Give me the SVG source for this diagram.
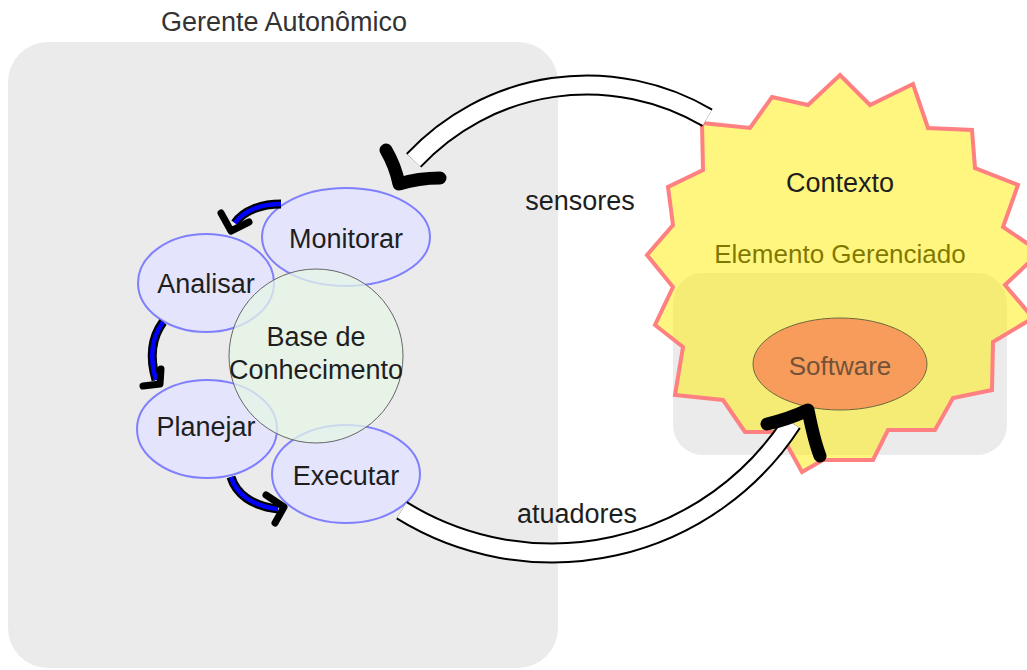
<svg xmlns="http://www.w3.org/2000/svg" width="1027" height="670" viewBox="0 0 1027 670">
<style>
.t{font-family:"Liberation Sans",Arial,sans-serif;font-size:27px;fill:#1e1e1e;text-anchor:middle}
.panel{fill:#ebebeb}
.phase{fill:#e4e4fc;stroke:#8080ff;stroke-width:2}
.bo{fill:none;stroke:#000;stroke-width:21}
.bi{fill:none;stroke:#fff;stroke-width:17}
.head{fill:none;stroke:#000;stroke-width:13;stroke-linecap:round;stroke-linejoin:round}
.co{fill:none;stroke:#000;stroke-width:9}
.ci{fill:none;stroke:#0000ff;stroke-width:4.5}
.ch{fill:none;stroke:#000;stroke-width:7;stroke-linecap:round;stroke-linejoin:round}
</style>
<g id="gerente-autonomico">
<rect class="panel" x="8" y="42" width="550" height="626" rx="40"/>
<text class="t" x="284" y="31" style="fill:#333">Gerente Autonômico</text>
</g>
<g id="elemento-gerenciado">
<rect class="panel" x="673" y="273" width="334" height="182" rx="30"/>
<text class="t" x="840" y="263" style="fill:#000;font-size:26px">Elemento Gerenciado</text>
</g>
<g id="contexto">
<polygon points="840,75 870,105 913,84 928,128 972,130 975,168 1018,185 1003,227 1040,252 1005,285 1033,318 993,342 992,390 953,398 935,430 888,430 873,460 823,460 802,472 780,432 745,432 723,400 675,395 683,347 655,325 673,287 647,255 673,225 668,187 703,170 702,123 750,128 772,97 808,105" fill="#ffed00" fill-opacity="0.5" stroke="#ff8080" stroke-width="4" stroke-linejoin="miter"/>
<text class="t" x="840" y="192">Contexto</text>
</g>
<g id="software">
<ellipse cx="840" cy="364" rx="87" ry="46" fill="#f89c5c" stroke="#6e6a3c" stroke-width="1"/>
<text class="t" x="840" y="375" style="fill:#735239;font-size:26px">Software</text>
</g>
<g id="monitorar">
<ellipse class="phase" cx="346" cy="237" rx="84" ry="49"/>
<text class="t" x="346" y="248">Monitorar</text>
</g>
<g id="analisar">
<ellipse class="phase" cx="206" cy="283" rx="68" ry="49"/>
<text class="t" x="206" y="293">Analisar</text>
</g>
<g id="planejar">
<ellipse class="phase" cx="207" cy="429" rx="70" ry="49"/>
<text class="t" x="206" y="436">Planejar</text>
</g>
<g id="executar">
<ellipse class="phase" cx="346" cy="474" rx="74" ry="49"/>
<text class="t" x="346" y="485">Executar</text>
</g>
<g id="base-de-conhecimento">
<circle cx="316" cy="356" r="87" fill="#e6f5e6" fill-opacity="0.75" stroke="#666" stroke-width="1"/>
<text class="t" x="316" y="346">Base de</text>
<text class="t" x="316" y="379">Conhecimento</text>
</g>
<g id="connectors">
<path class="bo" d="M707.3,117.8 A237,237 0 0 0 413.7,160.4"/>
<path class="bi" d="M707.3,117.8 A237,237 0 0 0 413.7,160.4"/>
<path class="head" d="M386,150 C393,162 397,174 399,184 C412,180 426,178 440,178"/>
<text class="t" x="580" y="210">sensores</text>
<path class="bo" d="M401.7,510.3 A286,286 0 0 0 791.9,422.8"/>
<path class="bi" d="M401.7,510.3 A286,286 0 0 0 791.9,422.8"/>
<path class="head" d="M767,424 C781,421 795,416 808,410 C811,425 815,443 820,456"/>
<text class="t" x="577" y="523">atuadores</text>
<path class="co" d="M281,204 C262,204 244,210 235,223"/>
<path class="ci" d="M281,204 C262,204 244,210 235,223"/>
<path class="ch" d="M221,213 L231,231 L249,222"/>
<path class="co" d="M163,322 C152,337 149,356 156,380"/>
<path class="ci" d="M163,322 C152,337 149,356 156,380"/>
<path class="ch" d="M143,386 L160,384 L161,369"/>
<path class="co" d="M231,477 C236,494 252,506 278,509"/>
<path class="ci" d="M231,477 C236,494 252,506 278,509"/>
<path class="ch" d="M266,495 L284,507 L275,523"/>
</g>
</svg>
